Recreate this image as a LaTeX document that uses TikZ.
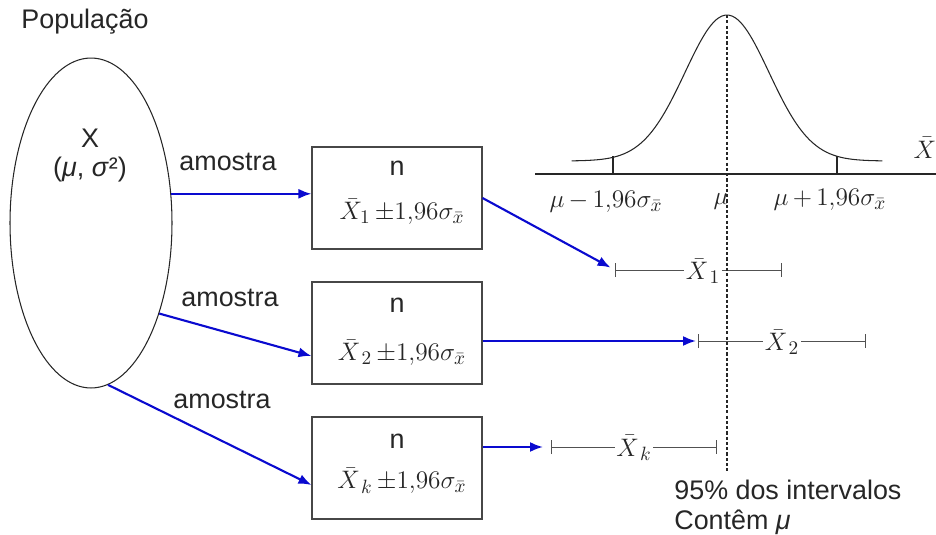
\documentclass[tikz,border=0pt]{standalone}
\usepackage{fontspec}
\setmainfont{Liberation Sans}
\usetikzlibrary{arrows.meta,shapes.geometric}
\definecolor{ink}{HTML}{262626}
\definecolor{sample}{HTML}{0A0ACF}

\begin{document}
\begin{tikzpicture}[x=0.02cm,y=-0.02cm,
 txt/.style={font=\fontsize{15.3}{17}\selectfont,text=ink,inner sep=0pt},
 frm/.style={font=\fontsize{15}{17}\selectfont,text=ink,inner sep=1pt},
 box/.style={draw=ink!85,line width=0.6pt,minimum width=3.4cm,minimum height=2.04cm,inner sep=0pt},
 samp/.style={draw=sample,line width=1.2pt,-{Latex[length=0.26cm,width=0.2cm]}},
 interval/.style={draw=ink!80,line width=0.5pt,{Bar[width=0.28cm]}-{Bar[width=0.28cm]}},
 tick/.style={draw=ink,line width=0.6pt}]
\useasboundingbox (0,0) rectangle (936,534);

% population
\node[txt] (poptitle) at (85,22) {População};
\node[draw=ink,line width=0.6pt,ellipse,minimum width=3.24cm,minimum height=6.6cm,inner sep=0pt] (pop) at (91,223) {};
\node[txt] (popx) at (90,138) {X};
\node[txt] (poppar) at (90,170) {(\textit{μ}, \textit{σ}²)};

% samples
\node[box] (s1) at (397,198) {};
\node[box] (s2) at (397,333) {};
\node[box] (sk) at (397,468) {};
\node[txt] (n1) at (397,168) {n};
\node[txt] (n2) at (397,305) {n};
\node[txt] (nk) at (397,441) {n};
\node[frm] (f1) at (402,212) {$\bar{X}_1\,{\pm}1{,}96\sigma_{\bar{x}}$};
\node[frm] (f2) at (402,353) {$\bar{X}_{\,2}\,{\pm}1{,}96\sigma_{\bar{x}}$};
\node[frm] (fk) at (402,481) {$\bar{X}_{\,k}\,{\pm}1{,}96\sigma_{\bar{x}}$};

\draw[samp] (pop.20) -- (s1.west |- pop.20);
\draw[samp] (pop.-53) -- ([yshift=-0.46cm]s2.west);
\draw[samp] (pop.-84) -- ([yshift=-0.34cm]sk.west);
\node[txt] (a1) at (228,162) {amostra};
\node[txt] (a2) at (230,298) {amostra};
\node[txt] (a3) at (222,400) {amostra};

% sampling distribution
\coordinate (ax0) at (535,174);
\coordinate (ax1) at (936,174);
\draw[ink,line width=1.1pt] (ax0) -- (ax1);
\draw[ink,line width=0.6pt] plot[domain=-3.7:3.7,samples=90,smooth] ({727+42*\x},{161-146*exp(-0.5*(\x)*(\x))});
\draw[tick] (613,156) -- (613,174);
\draw[tick] (837,156) -- (837,174);
\node[frm] (lo) at (606,202) {$\mu\,{-}\,1{,}96\sigma_{\bar{x}}$};
\node[frm] (mu) at (721,202) {$\mu$};
\node[frm] (hi) at (830,200) {$\mu\,{+}\,1{,}96\sigma_{\bar{x}}$};
\node[frm] (xbar) at (925,148) {$\bar{X}$};

% intervals
\coordinate (i1l) at (615,270);
\coordinate (i1r) at (782,270);
\coordinate (i2l) at (698,341);
\coordinate (i2r) at (866,341);
\coordinate (ikl) at (551,447);
\coordinate (ikr) at (717,447);
\draw[interval] (i1l) -- (i1r);
\draw[interval] (i2l) -- (i2r);
\draw[interval] (ikl) -- (ikr);
\node[frm,fill=white] (x1) at (703,271) {$\bar{X}_{\,1}$};
\node[frm,fill=white] (x2) at (782,342) {$\bar{X}_{\,2}$};
\node[frm,fill=white] (xk) at (634,448) {$\bar{X}_{\,k}$};

\draw[samp,shorten >=0.1cm] (s1.east) -- (i1l);
\draw[samp,shorten >=0.04cm] (s2.east |- i2l) -- (i2l);
\draw[samp,shorten >=0.16cm] (sk.east |- ikl) -- (ikl);

% mean line
\coordinate (peak) at (727,15);
\coordinate (dbot) at (727,473);
\draw[ink,line width=1pt,dash pattern=on 1.8pt off 1.2pt] (peak) -- (dbot);
\node[txt,anchor=north west,align=left] (note) at (674,480) {95\% dos intervalos\\Contêm \textit{μ}};
\end{tikzpicture}
\end{document}
